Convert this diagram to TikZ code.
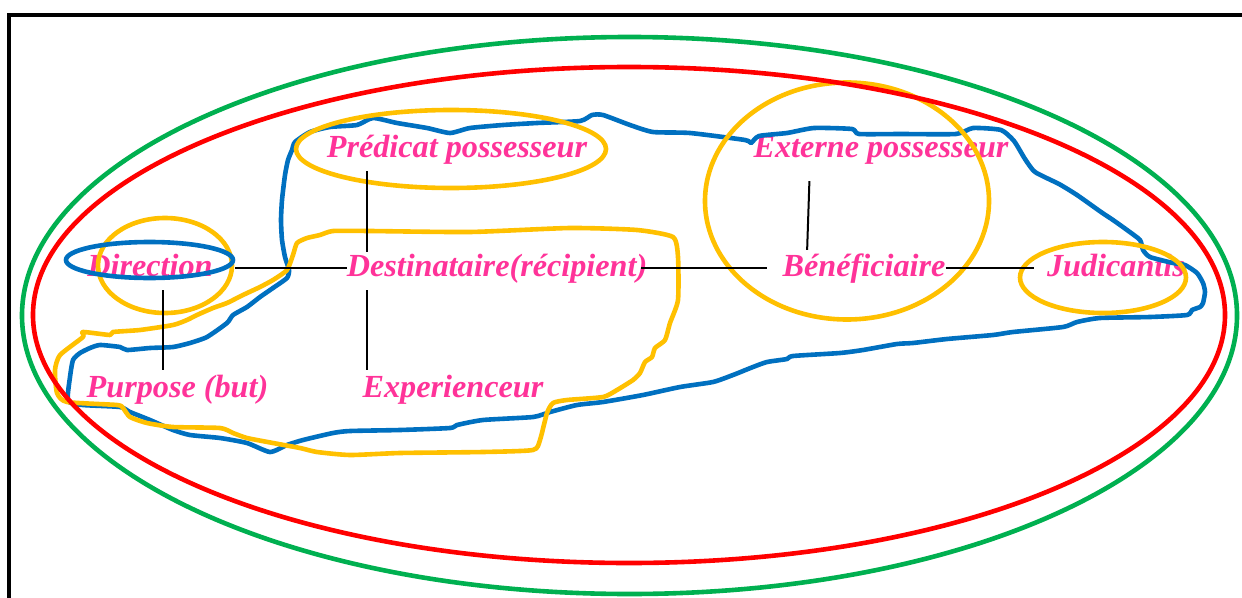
\documentclass[tikz,border=0pt]{standalone}
\usepackage{fontspec}
\setmainfont{Liberation Serif}
\usetikzlibrary{shapes.geometric,calc}
\definecolor{pinktext}{RGB}{255,51,153}
\definecolor{ogreen}{RGB}{0,176,80}
\definecolor{ored}{RGB}{255,0,0}
\definecolor{oyellow}{RGB}{255,192,0}
\definecolor{oblue}{RGB}{0,112,192}
\begin{document}
\begin{tikzpicture}[x=1pt,y=-1pt,
  lbl/.style={font=\fontsize{32.2}{37}\selectfont\bfseries\itshape, text=pinktext, inner sep=0pt, text height=22pt, text depth=6pt, anchor=base},
  ring/.style={draw, shape=ellipse, line width=4.6pt, inner sep=0pt},
  conn/.style={draw=black, line width=2pt},
  blob/.style={line width=4.6pt, line join=round}]
\useasboundingbox (0,0) rectangle (1242,597);
\fill[white] (0,0) rectangle (1242,597);
% frame
\draw[line width=4.5pt, line join=miter] (9,600) -- (9,15) -- (1245,15);
% labels
\node[lbl] (pred)  at (457,157) {Prédicat possesseur};
\node[lbl] (ext)   at (881,157) {Externe possesseur};
\node[lbl] (dir)   at (150,276) {Direction};
\node[lbl] (dest)  at (497,276) {Destinataire(récipient)};
\node[lbl] (benef) at (864,276) {Bénéficiaire};
\node[lbl] (judic) at (1116,276) {Judicantis};
\node[lbl] (purp)  at (177.5,397) {Purpose (but)};
\node[lbl] (exper) at (453,397) {Experienceur};
% blue blob
\draw[oblue, blob] plot[smooth cycle, tension=0.35] coordinates {
(295,142) (310,132) (330,127) (357,125) (373,118) (397,123) (427,128) (450,133) (470,128) (503,125) (537,123) (580,121) (592,115) (603,115) (630,125) (653,132) (690,133) (745,140) (751,143) (759,136) (787,133) (814,128) (852,129) (859,134) (901,134) (956,134) (973,128) (1001,130) (1014,141) (1025,159) (1035,172) (1059,184) (1077,195) (1101,212) (1113,220) (1127,230) (1140,240) (1143,250) (1150,257) (1173,263) (1185,265) (1197,273) (1203,283) (1205,292) (1203,303) (1200,307) (1192,310) (1187,315) (1150,317) (1100,318) (1077,322) (1063,327) (1013,332) (993,335) (947,339) (913,343) (897,344) (863,350) (840,353) (793,356) (787,359) (767,362) (753,367) (733,375) (713,382) (680,387) (643,395) (603,402) (577,405) (550,412) (533,417) (483,420) (457,425) (450,428) (400,430) (350,431) (333,433) (303,440) (287,445) (270,452) (247,443) (220,438) (190,435) (173,430) (150,420) (130,412) (120,407) (83,405) (68,401) (70,377) (73,360) (80,353) (90,348) (100,345) (120,347) (127,350) (150,348) (173,347) (190,343) (207,337) (227,323) (233,315) (247,307) (260,297) (273,288) (287,278) (289,270) (285,257) (282,240) (281,220) (282,200) (285,175) (288,160) (292,150)};
% yellow blob
\draw[oyellow, blob] plot[smooth cycle, tension=0.35] coordinates {
(297,243) (307,238) (320,235) (333,231) (370,231) (470,232) (570,228) (637,230) (673,237) (678,257) (678,300) (670,323) (665,340) (655,348) (652,357) (645,362) (640,373) (633,380) (617,390) (603,397) (567,400) (553,403) (547,413) (540,440) (533,450) (483,452) (400,453) (350,455) (317,452) (300,448) (273,443) (247,438) (233,433) (220,428) (173,427) (147,423) (130,417) (123,408) (117,405) (67,402) (57,393) (55,370) (60,355) (83,337) (83,332) (110,335) (113,332) (140,330) (173,325) (187,320) (197,315) (213,308) (227,303) (243,295) (260,287) (273,280) (287,270) (293,255)};
% yellow rings
\node[ring, draw=oyellow, minimum width=310pt, minimum height=78pt] (predE) at (451,149) {};
\node[ring, draw=oyellow, minimum width=134pt, minimum height=95pt] (dirC) at (165,265.5) {};
\node[ring, draw=oyellow, minimum width=284pt, minimum height=237pt] (benefC) at (847,201) {};
\node[ring, draw=oyellow, minimum width=166pt, minimum height=71pt] (judicE) at (1103,277.5) {};
% blue ring round Direction
\node[ring, draw=oblue, minimum width=167pt, minimum height=36pt] (dirE) at (149.5,260) {};
% red and green rings
\node[ring, draw=ored, minimum width=1192pt, minimum height=496pt] (redE) at (629,315) {};
\node[ring, draw=ogreen, minimum width=1215pt, minimum height=557pt] (greenE) at (629.5,315.5) {};
% connectors
\draw[conn] (dirE.east |- dest.west) -- (dest.west);
\draw[conn, shorten <=-6pt, shorten >=15pt] (dest.east) -- (benef.west);
\draw[conn, shorten >=13pt] (benef.east) -- (judic.west);
\draw[conn, shorten <=8pt, shorten >=2pt] ([xshift=-90pt]pred.south) -- ([xshift=-130pt]dest.north);
\draw[conn, shorten <=8pt, shorten >=5pt] ([xshift=-130pt]dest.south) -- ([xshift=-86pt]exper.north);
\draw[conn, shorten <=8pt, shorten >=5pt] ([xshift=13pt]dir.south) -- ([xshift=-14.5pt]purp.north);
\draw[conn, shorten <=18pt, shorten >=4pt] ([xshift=-71pt]ext.south) -- ([xshift=-57pt]benef.north);
\end{tikzpicture}
\end{document}
